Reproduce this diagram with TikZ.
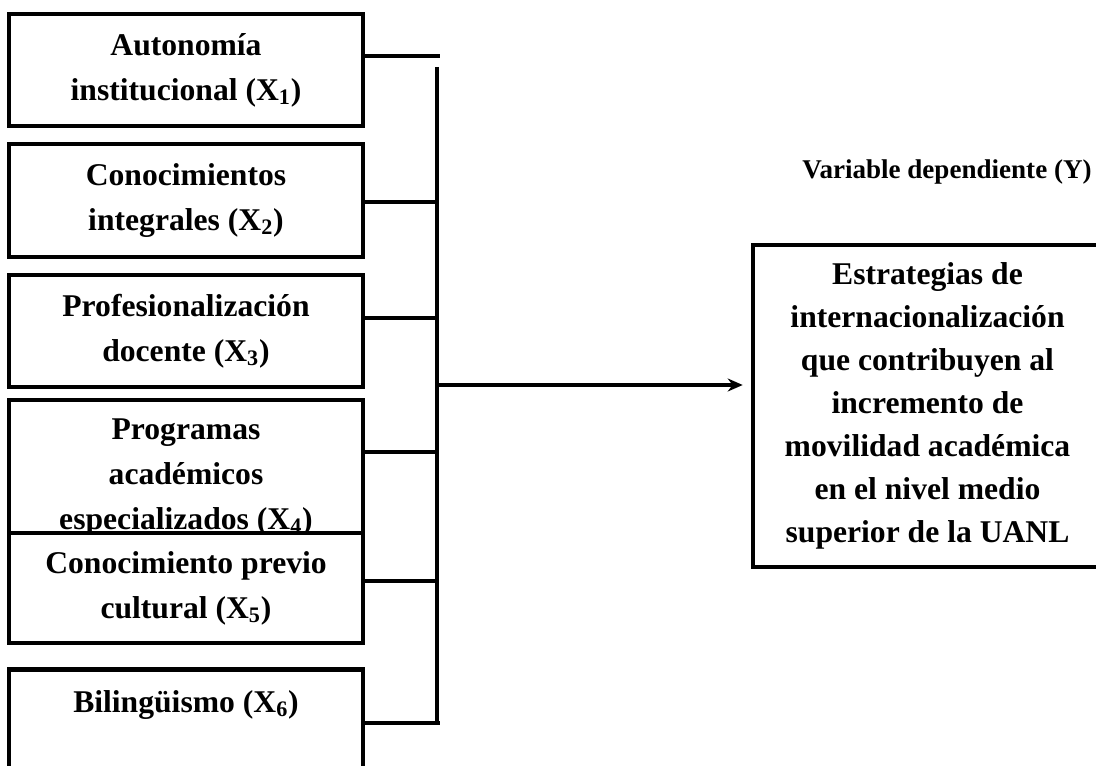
\documentclass[tikz,border=0pt]{standalone}
\usepackage{fontspec}
\setmainfont{Liberation Serif}
\usetikzlibrary{arrows.meta}

\tikzset{
  varbox/.style={draw, line width=2.6pt, fill=white, minimum width=7.08cm, align=center,
    font=\fontsize{18}{25.5}\selectfont\bfseries},
  depbox/.style={draw, line width=2.6pt, fill=white, minimum width=6.98cm, minimum height=6.44cm,
    align=center, font=\fontsize{18}{24.4}\selectfont\bfseries},
  link/.style={line width=2.6pt}
}

\begin{document}
\begin{tikzpicture}
\useasboundingbox (0,0) rectangle (21.92,-15.3);
\node[varbox, minimum height=2.24cm] (x1) at (3.72,-1.40) {Autonomía\\institucional (X\textsubscript{1})};
\node[varbox, minimum height=2.26cm] (x2) at (3.72,-4.01) {Conocimientos\\integrales (X\textsubscript{2})};
\node[varbox, minimum height=2.24cm] (x3) at (3.72,-6.62) {Profesionalización\\docente (X\textsubscript{3})};
\node[varbox, minimum height=3.10cm] (x4) at (3.72,-9.55) {Programas\\académicos\\especializados (X\textsubscript{4})};
\node[varbox, minimum height=2.20cm] (x5) at (3.72,-11.76) {Conocimiento previo\\cultural (X\textsubscript{5})};
\node[varbox, anchor=north, inner ysep=0.42cm, text depth=2.6cm] (x6) at (3.72,-13.34) {Bilingüismo (X\textsubscript{6})};

\node[depbox] (dep) at (18.55,-8.12) {Estrategias de\\internacionalización\\que contribuyen al\\incremento de\\movilidad académica\\en el nivel medio\\superior de la UANL};
\node[font=\fontsize{15.4}{18}\selectfont\bfseries] (deplbl) at (18.94,-3.44) {Variable dependiente (Y)};

\coordinate (bustop) at (8.74,-1.34);
\coordinate (busbot) at (8.74,-14.46);
\coordinate (b1) at (8.80,-1.12);
\coordinate (b2) at (8.74,-4.04);
\coordinate (b3) at (8.74,-6.36);
\coordinate (b4) at (8.74,-9.04);
\coordinate (b5) at (8.74,-11.62);
\coordinate (b6) at (8.80,-14.46);
\coordinate (bout) at (8.74,-7.70);

\draw[link] (bustop) -- (busbot);
\draw[link] (b1 -| x1.east) -- (b1);
\draw[link] (b2 -| x2.east) -- (b2);
\draw[link] (b3 -| x3.east) -- (b3);
\draw[link] (b4 -| x4.east) -- (b4);
\draw[link] (b5 -| x5.east) -- (b5);
\draw[link] (b6 -| x6.east) -- (b6);
\draw[link, -{Stealth[length=0.3cm, width=0.26cm]}, shorten >=0.16cm] (bout) -- (bout -| dep.west);
\end{tikzpicture}
\end{document}
